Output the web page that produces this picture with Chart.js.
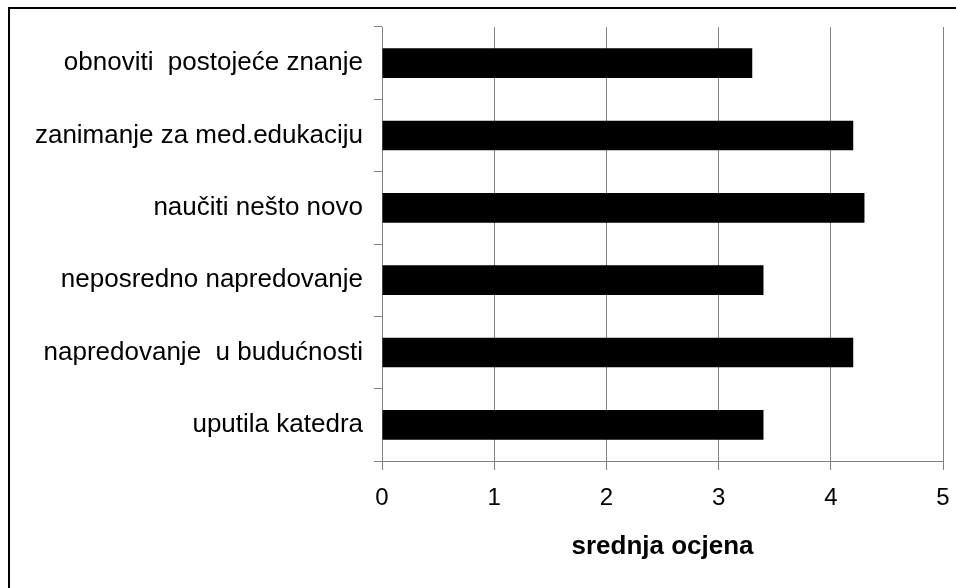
<!DOCTYPE html>
<html>
<head>
<meta charset="utf-8">
<script src="https://cdn.jsdelivr.net/npm/chart.js@4/dist/chart.umd.min.js"></script>
<style>
  html, body { margin: 0; padding: 0; background: #fff; }
  #wrap { width: 956px; height: 588px; position: relative; }
</style>
</head>
<body>
<div id="wrap"><canvas id="c" width="956" height="588"></canvas></div>
<script>
const categories = [
  "obnoviti  postojeće znanje",
  "zanimanje za med.edukaciju",
  "naučiti nešto novo",
  "neposredno napredovanje",
  "napredovanje  u budućnosti",
  "uputila katedra"
];
const meanScores = [3.3, 4.2, 4.3, 3.4, 4.2, 3.4];
const xTicks = [0, 1, 2, 3, 4, 5];
const xTitle = "srednja ocjena";

const FONT = "'Liberation Sans', Arial, sans-serif";
const GREY = "#808080";

const frame = {
  id: 'frame',
  afterDraw(chart) {
    const ctx = chart.ctx;
    ctx.save();
    ctx.fillStyle = '#000';
    ctx.fillRect(8, 7, 2, 600);
    ctx.fillRect(8, 7, 960, 2);
    ctx.restore();
  }
};

new Chart(document.getElementById('c'), {
  type: 'bar',
  data: {
    labels: categories,
    datasets: [{
      data: meanScores,
      backgroundColor: '#000',
      borderWidth: 0,
      categoryPercentage: 1,
      barPercentage: 0.41
    }]
  },
  options: {
    indexAxis: 'y',
    responsive: false,
    animation: false,
    devicePixelRatio: 1,
    layout: { padding: { top: 27, right: 13, bottom: 0, left: 0 } },
    plugins: { legend: { display: false }, tooltip: { enabled: false } },
    scales: {
      x: {
        min: 0, max: 5,
        afterBuildTicks(axis) { axis.ticks = xTicks.map(v => ({ value: v })); },
        afterFit(axis) { axis.height = 127; axis.paddingRight = 0; axis.paddingLeft = 0; },
        grid: { color: GREY, lineWidth: 1, tickLength: 9, tickColor: GREY, drawOnChartArea: true },
        border: { color: GREY, width: 1 },
        ticks: { color: '#000', font: { family: FONT, size: 24 }, padding: 14, maxRotation: 0 },
        title: {
          display: true, text: xTitle, color: '#000',
          font: { family: FONT, size: 26, weight: 'bold' },
          padding: { top: 4, bottom: 26 }
        }
      },
      y: {
        afterFit(axis) { axis.width = 382; axis.paddingTop = 0; axis.paddingBottom = 0; },
        grid: { drawOnChartArea: false, tickLength: 8, tickColor: GREY, offset: true },
        border: { color: GREY, width: 1 },
        ticks: { color: '#000', font: { family: FONT, size: 26 }, padding: 11 }
      }
    }
  },
  plugins: [frame]
});
</script>
</body>
</html>
